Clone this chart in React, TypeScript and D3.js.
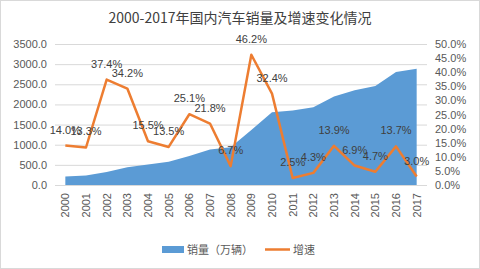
import React, { useEffect, useRef } from "react";
import * as d3 from "d3";

const years = ["2000","2001","2002","2003","2004","2005","2006","2007","2008","2009","2010","2011","2012","2013","2014","2015","2016","2017"];
const sales = [208.9, 236.4, 325.1, 439.1, 507.1, 575.8, 721.6, 879.2, 938.1, 1364.5, 1806.2, 1850.5, 1930.6, 2198.4, 2349.2, 2459.8, 2802.8, 2887.9];
const growth = [14.0, 13.3, 37.4, 34.2, 15.5, 13.5, 25.1, 21.8, 6.7, 46.2, 32.4, 2.5, 4.3, 13.9, 6.9, 4.7, 13.7, 3.0];
const leftTicks = [0, 500, 1000, 1500, 2000, 2500, 3000, 3500];
const rightTicks = [0, 5, 10, 15, 20, 25, 30, 35, 40, 45, 50];

const W = 480;
const H = 269;
const numFont = "Liberation Sans, Arial, sans-serif";
const cjkFont = "Noto Sans CJK SC, sans-serif";

export default function App() {
  const svgRef = useRef<SVGSVGElement | null>(null);

  useEffect(() => {
    if (!svgRef.current) return;
    const svg = d3.select(svgRef.current);
    svg.selectAll("*").remove();

    const left = 55, right = 427, top = 44, bottom = 185;

    const x = d3.scaleBand<string>().domain(years).range([left, right]);
    const cx = (y: string) => (x(y) ?? 0) + x.bandwidth() / 2;
    const yL = d3.scaleLinear().domain([0, 3500]).range([bottom, top]);
    const yR = d3.scaleLinear().domain([0, 50]).range([bottom, top]);

    // frame
    svg.append("rect")
      .attr("x", 0.5).attr("y", 0.5)
      .attr("width", W - 1).attr("height", H - 1)
      .attr("fill", "#fff").attr("stroke", "#d9d9d9");

    svg.append("text")
      .attr("x", W / 2).attr("y", 23)
      .attr("text-anchor", "middle")
      .attr("fill", "#404040")
      .style("font-family", cjkFont)
      .style("font-size", "14px")
      .text("2000-2017年国内汽车销量及增速变化情况");

    // gridlines
    svg.append("g").selectAll("line").data(leftTicks).enter().append("line")
      .attr("x1", left).attr("x2", right)
      .attr("y1", (d) => yL(d) + 0.5).attr("y2", (d) => yL(d) + 0.5)
      .attr("stroke", "#d9d9d9").attr("stroke-width", 1);

    // area
    const area = d3.area<number>()
      .x((_, i) => cx(years[i]))
      .y0(yL(0))
      .y1((d) => yL(d));
    svg.append("path").datum(sales)
      .attr("d", area)
      .attr("fill", "#5b9bd5");

    // growth line
    const line = d3.line<number>()
      .x((_, i) => cx(years[i]))
      .y((d) => yR(d));
    svg.append("path").datum(growth)
      .attr("d", line)
      .attr("fill", "none")
      .attr("stroke", "#ed7d31")
      .attr("stroke-width", 2.5)
      .attr("stroke-linejoin", "round");

    // data labels
    svg.append("g").selectAll("text").data(growth).enter().append("text")
      .attr("x", (_, i) => cx(years[i]))
      .attr("y", (d) => yR(d) - 12)
      .attr("text-anchor", "middle")
      .attr("fill", "#404040")
      .style("font-family", numFont)
      .style("font-size", "11px")
      .text((d) => d.toFixed(1) + "%");

    // left axis labels
    svg.append("g").selectAll("text").data(leftTicks).enter().append("text")
      .attr("x", 47).attr("y", (d) => yL(d) + 4)
      .attr("text-anchor", "end")
      .attr("fill", "#595959")
      .style("font-family", numFont)
      .style("font-size", "11px")
      .text((d) => d.toFixed(1));

    // right axis labels
    svg.append("g").selectAll("text").data(rightTicks).enter().append("text")
      .attr("x", 435).attr("y", (d) => yR(d) + 4)
      .attr("text-anchor", "start")
      .attr("fill", "#595959")
      .style("font-family", numFont)
      .style("font-size", "11px")
      .text((d) => d.toFixed(1) + "%");

    // year labels
    svg.append("g").selectAll("text").data(years).enter().append("text")
      .attr("transform", (d) => `translate(${cx(d) + 4},${bottom + 8}) rotate(-90)`)
      .attr("text-anchor", "end")
      .attr("fill", "#595959")
      .style("font-family", numFont)
      .style("font-size", "11px")
      .text((d) => d);

    // legend
    const lg = svg.append("g");
    lg.append("rect").attr("x", 162).attr("y", 246).attr("width", 22).attr("height", 7).attr("fill", "#5b9bd5");
    lg.append("text").attr("x", 187).attr("y", 254)
      .attr("fill", "#595959").style("font-family", cjkFont).style("font-size", "11px")
      .text("销量（万辆）");
    lg.append("line").attr("x1", 265).attr("x2", 290).attr("y1", 249.5).attr("y2", 249.5)
      .attr("stroke", "#ed7d31").attr("stroke-width", 2.5);
    lg.append("text").attr("x", 293).attr("y", 254)
      .attr("fill", "#595959").style("font-family", cjkFont).style("font-size", "11px")
      .text("增速");
  }, []);

  return (
    <div style={{ position: "fixed", left: 0, top: 0 }}>
      <svg ref={svgRef} width={W} height={H} viewBox={`0 0 ${W} ${H}`} style={{ display: "block" }} />
    </div>
  );
}
